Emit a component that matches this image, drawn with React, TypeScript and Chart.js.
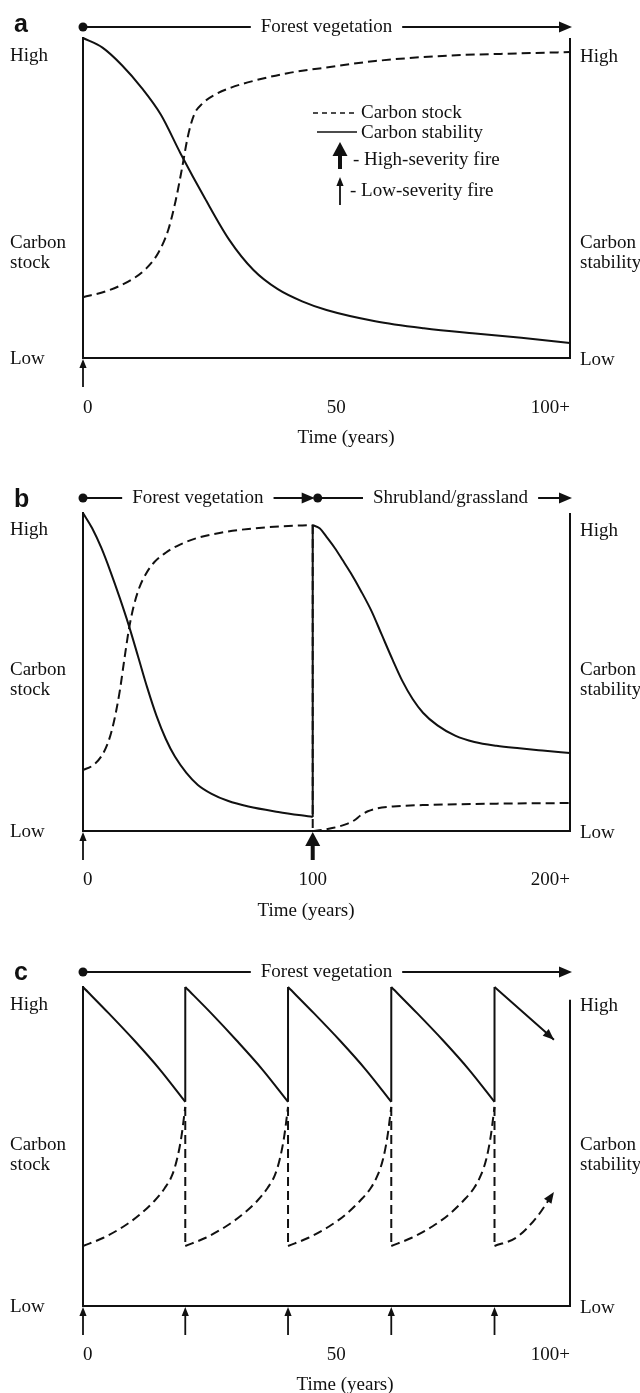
import React, { useEffect, useRef } from 'react';
import { Chart, registerables } from 'chart.js';

Chart.register(...registerables);

const SERIF = '"Liberation Serif", "Times New Roman", serif';
const SANS = '"Liberation Sans", Arial, sans-serif';
const INK = '#111';

type Pt = [number, number | null];

// ---------- Panel a ----------
const A_TICK_VALUES = [0, 52, 100];
const A_TICK_LABELS = ['0', '50', '100+'];
const A_STABILITY: Pt[] = [[0, 1.0], [4, 0.97], [8, 0.915], [12, 0.845], [16, 0.76], [20, 0.64], [25, 0.5], [30, 0.37], [35, 0.275], [40, 0.215], [45, 0.177], [50, 0.15], [60, 0.115], [70, 0.093], [80, 0.077], [90, 0.063], [100, 0.047]];
const A_STOCK: Pt[] = [[0, 0.19], [5, 0.21], [10, 0.245], [13, 0.28], [15.5, 0.33], [17.5, 0.4], [19, 0.49], [20.3, 0.59], [21.5, 0.69], [22.8, 0.76], [24.5, 0.795], [27, 0.822], [30.4, 0.845], [35, 0.866], [42, 0.89], [50, 0.908], [60, 0.928], [75, 0.945], [90, 0.952], [100, 0.956]];
const A_LOW_FIRES = [0];
const A_HIGH_FIRES: number[] = [];

// ---------- Panel b ----------
const B_TICK_VALUES = [0, 100, 212];
const B_TICK_LABELS = ['0', '100', '200+'];
const B_STABILITY_FOREST: Pt[] = [[0, 1.0], [4, 0.952], [8, 0.89], [12, 0.815], [16, 0.733], [20, 0.645], [24, 0.548], [28, 0.45], [32, 0.362], [36, 0.29], [40, 0.234], [45, 0.183], [50, 0.145], [56, 0.117], [63, 0.095], [72, 0.077], [85, 0.06], [100, 0.044]];
const B_STOCK_FOREST: Pt[] = [[0, 0.192], [4, 0.205], [8, 0.235], [11, 0.28], [13.5, 0.345], [16, 0.44], [18, 0.54], [20, 0.635], [22, 0.705], [24.5, 0.765], [27.5, 0.81], [31, 0.845], [36, 0.875], [42, 0.9], [50, 0.922], [60, 0.938], [72, 0.95], [86, 0.958], [100, 0.962]];
const B_JUMP_SOLID: Pt[] = [[100, 0.044], [100, 0.962]];
const B_DROP_DASHED: Pt[] = [[100, 0.962], [100, 0]];
const B_STABILITY_SHRUB: Pt[] = [[100, 0.962], [103, 0.952], [106, 0.925], [109.6, 0.89], [113, 0.852], [116.5, 0.812], [121, 0.755], [125.7, 0.69], [130, 0.618], [134.8, 0.538], [139, 0.472], [143.5, 0.415], [148, 0.372], [154.3, 0.332], [162, 0.3], [170.4, 0.28], [180, 0.268], [190, 0.26], [200, 0.253], [212, 0.245]];
const B_STOCK_SHRUB: Pt[] = [[100, 0], [104, 0.003], [109, 0.01], [114, 0.02], [118, 0.033], [121, 0.05], [124, 0.062], [128, 0.071], [135, 0.077], [150, 0.082], [180, 0.086], [212, 0.088]];
const B_LOW_FIRES = [0];
const B_HIGH_FIRES = [100];

// ---------- Panel c ----------
const C_TICK_VALUES = [0, 52, 100];
const C_TICK_LABELS = ['0', '50', '100+'];
const C_STABILITY_1: Pt[] = [[0, 1.0], [5.25, 0.918], [10.5, 0.833], [15.75, 0.742], [21, 0.64]];
const C_STABILITY_2: Pt[] = [[21, 1.0], [26.3, 0.918], [31.5, 0.833], [36.8, 0.742], [42.1, 0.64]];
const C_STABILITY_3: Pt[] = [[42.1, 1.0], [47.4, 0.918], [52.7, 0.833], [58, 0.742], [63.3, 0.64]];
const C_STABILITY_4: Pt[] = [[63.3, 1.0], [68.6, 0.918], [73.9, 0.833], [79.2, 0.742], [84.5, 0.64]];
const C_STABILITY_5: Pt[] = [[84.5, 1.0], [90.6, 0.918], [96.7, 0.835]];
const C_STABILITY_JUMPS: Pt[] = [[21, 0.64], [21, 1.0], [21, null], [42.1, 0.64], [42.1, 1.0], [42.1, null], [63.3, 0.64], [63.3, 1.0], [63.3, null], [84.5, 0.64], [84.5, 1.0]];
const C_STOCK_1: Pt[] = [[0, 0.188], [4.2, 0.214], [8.4, 0.25], [11.55, 0.285], [14.7, 0.33], [16.8, 0.37], [18.3, 0.41], [19.3, 0.46], [20.2, 0.53], [21, 0.624]];
const C_STOCK_2: Pt[] = [[21, 0.188], [25.2, 0.214], [29.4, 0.25], [32.6, 0.285], [35.8, 0.33], [37.9, 0.37], [39.4, 0.41], [40.4, 0.46], [41.3, 0.53], [42.1, 0.624]];
const C_STOCK_3: Pt[] = [[42.1, 0.188], [46.3, 0.214], [50.6, 0.25], [53.8, 0.285], [56.9, 0.33], [59.1, 0.37], [60.5, 0.41], [61.6, 0.46], [62.5, 0.53], [63.3, 0.624]];
const C_STOCK_4: Pt[] = [[63.3, 0.188], [67.5, 0.214], [71.8, 0.25], [75, 0.285], [78.1, 0.33], [80.3, 0.37], [81.7, 0.41], [82.8, 0.46], [83.7, 0.53], [84.5, 0.624]];
const C_STOCK_5: Pt[] = [[84.5, 0.188], [89.1, 0.216], [93.2, 0.279], [96.7, 0.357]];
const C_STOCK_DROPS: Pt[] = [[21, 0.624], [21, 0.188], [21, null], [42.1, 0.624], [42.1, 0.188], [42.1, null], [63.3, 0.624], [63.3, 0.188], [63.3, null], [84.5, 0.624], [84.5, 0.188]];
const C_LOW_FIRES = [0, 21, 42.1, 63.3, 84.5];
const C_HIGH_FIRES: number[] = [];

// ---------- Text ----------
const LEFT_LABELS = ['High', 'Carbon', 'stock', 'Low'];
const RIGHT_LABELS = ['High', 'Carbon', 'stability', 'Low'];
const LEGEND_LABELS = ['Carbon stock', 'Carbon stability', '- High-severity fire', '- Low-severity fire'];
const X_TITLE = 'Time (years)';

interface Series { data: Pt[]; dashed: boolean; smooth: boolean; arrow?: boolean; }
interface Segment { from: number; to: number; at: number; label: string; }
interface PanelCfg {
  letter: string; top: number; height: number; areaTop: number; areaBottom: number;
  xMax: number; tickValues: number[]; tickLabels: string[]; tickPad: number;
  titleX: number; titleY: number; rowY: number; letterY: number;
  segments: Segment[]; highVal: number; carbonVal: number; rightTop: number;
  lowFires: number[]; highFires: number[]; series: Series[]; legend: boolean;
}

const PANELS: PanelCfg[] = [
  {
    letter: 'a', top: 0, height: 460, areaTop: 38, areaBottom: 358, xMax: 100,
    tickValues: A_TICK_VALUES, tickLabels: A_TICK_LABELS, tickPad: 39,
    titleX: 346, titleY: 438, rowY: 27, letterY: 32,
    segments: [{ from: 0, to: 100, at: 50, label: 'Forest vegetation' }],
    highVal: 0.945, carbonVal: 0.36, rightTop: 1,
    lowFires: A_LOW_FIRES, highFires: A_HIGH_FIRES, legend: true,
    series: [
      { data: A_STOCK, dashed: true, smooth: true },
      { data: A_STABILITY, dashed: false, smooth: true },
    ],
  },
  {
    letter: 'b', top: 460, height: 470, areaTop: 53, areaBottom: 371, xMax: 212,
    tickValues: B_TICK_VALUES, tickLabels: B_TICK_LABELS, tickPad: 38,
    titleX: 306, titleY: 451, rowY: 38, letterY: 47,
    segments: [
      { from: 0, to: 100, at: 50, label: 'Forest vegetation' },
      { from: 100, to: 212, at: 160, label: 'Shrubland/grassland' },
    ],
    highVal: 0.945, carbonVal: 0.506, rightTop: 1,
    lowFires: B_LOW_FIRES, highFires: B_HIGH_FIRES, legend: false,
    series: [
      { data: B_STOCK_FOREST, dashed: true, smooth: true },
      { data: B_STABILITY_FOREST, dashed: false, smooth: true },
      { data: B_DROP_DASHED, dashed: true, smooth: false },
      { data: B_JUMP_SOLID, dashed: false, smooth: false },
      { data: B_STABILITY_SHRUB, dashed: false, smooth: true },
      { data: B_STOCK_SHRUB, dashed: true, smooth: true },
    ],
  },
  {
    letter: 'c', top: 930, height: 470, areaTop: 57, areaBottom: 376, xMax: 100,
    tickValues: C_TICK_VALUES, tickLabels: C_TICK_LABELS, tickPad: 38,
    titleX: 345, titleY: 455, rowY: 42, letterY: 50,
    segments: [{ from: 0, to: 100, at: 50, label: 'Forest vegetation' }],
    highVal: 0.945, carbonVal: 0.505, rightTop: 0.96,
    lowFires: C_LOW_FIRES, highFires: C_HIGH_FIRES, legend: false,
    series: [
      { data: C_STABILITY_1, dashed: false, smooth: true },
      { data: C_STABILITY_2, dashed: false, smooth: true },
      { data: C_STABILITY_3, dashed: false, smooth: true },
      { data: C_STABILITY_4, dashed: false, smooth: true },
      { data: C_STABILITY_5, dashed: false, smooth: true, arrow: true },
      { data: C_STABILITY_JUMPS, dashed: false, smooth: false },
      { data: C_STOCK_1, dashed: true, smooth: true },
      { data: C_STOCK_2, dashed: true, smooth: true },
      { data: C_STOCK_3, dashed: true, smooth: true },
      { data: C_STOCK_4, dashed: true, smooth: true },
      { data: C_STOCK_5, dashed: true, smooth: true, arrow: true },
      { data: C_STOCK_DROPS, dashed: true, smooth: false },
    ],
  },
];

function fireArrow(ctx: CanvasRenderingContext2D, x: number, tipY: number, tailY: number, heavy: boolean) {
  const headH = heavy ? 14 : 9;
  const headW = heavy ? 7.5 : 3.6;
  ctx.save();
  ctx.strokeStyle = INK;
  ctx.fillStyle = INK;
  ctx.setLineDash([]);
  ctx.lineWidth = heavy ? 4 : 1.8;
  ctx.beginPath();
  ctx.moveTo(x, tailY);
  ctx.lineTo(x, tipY + headH - 1);
  ctx.stroke();
  ctx.beginPath();
  ctx.moveTo(x, tipY);
  ctx.lineTo(x - headW, tipY + headH);
  ctx.lineTo(x + headW, tipY + headH);
  ctx.closePath();
  ctx.fill();
  ctx.restore();
}

function makeAnnotations(cfg: PanelCfg) {
  return {
    id: 'annot_' + cfg.letter,
    afterDraw(chart: any) {
      const ctx: CanvasRenderingContext2D = chart.ctx;
      const xs = chart.scales.x;
      const ys = chart.scales.y;
      const area = chart.chartArea;
      ctx.save();
      ctx.fillStyle = INK;
      ctx.strokeStyle = INK;
      ctx.setLineDash([]);

      // right border
      ctx.lineWidth = 2;
      ctx.beginPath();
      ctx.moveTo(area.right, ys.getPixelForValue(cfg.rightTop));
      ctx.lineTo(area.right, area.bottom + 1);
      ctx.stroke();

      // arrowheads at series ends
      cfg.series.forEach((s, i) => {
        if (!s.arrow) return;
        const pts = chart.getDatasetMeta(i).data;
        const a = pts[pts.length - 2];
        const b = pts[pts.length - 1];
        const ang = Math.atan2(b.y - a.y, b.x - a.x);
        const L = 11, W = 4.5;
        ctx.beginPath();
        ctx.moveTo(b.x, b.y);
        ctx.lineTo(b.x - L * Math.cos(ang) + W * Math.sin(ang), b.y - L * Math.sin(ang) - W * Math.cos(ang));
        ctx.lineTo(b.x - L * Math.cos(ang) - W * Math.sin(ang), b.y - L * Math.sin(ang) + W * Math.cos(ang));
        ctx.closePath();
        ctx.fill();
      });

      // panel letter
      ctx.font = `bold 25px ${SANS}`;
      ctx.textAlign = 'left';
      ctx.textBaseline = 'alphabetic';
      ctx.fillText(cfg.letter, 14, cfg.letterY);

      // top phase row
      ctx.font = `19px ${SERIF}`;
      ctx.textBaseline = 'middle';
      ctx.lineWidth = 2;
      for (const seg of cfg.segments) {
        const y = cfg.rowY;
        const x0 = xs.getPixelForValue(seg.from) + (seg.from > 0 ? 5 : 0);
        const x1 = xs.getPixelForValue(seg.to) + 2;
        const xc = xs.getPixelForValue(seg.at);
        const w = ctx.measureText(seg.label).width;
        ctx.beginPath();
        ctx.arc(x0, y, 4.5, 0, Math.PI * 2);
        ctx.fill();
        ctx.beginPath();
        ctx.moveTo(x0, y);
        ctx.lineTo(xc - w / 2 - 10, y);
        ctx.moveTo(xc + w / 2 + 10, y);
        ctx.lineTo(x1 - 10, y);
        ctx.stroke();
        ctx.beginPath();
        ctx.moveTo(x1, y);
        ctx.lineTo(x1 - 13, y - 5.5);
        ctx.lineTo(x1 - 13, y + 5.5);
        ctx.closePath();
        ctx.fill();
        ctx.textAlign = 'center';
        ctx.fillText(seg.label, xc, y);
      }

      // side labels
      ctx.textAlign = 'left';
      const lx = 10;
      const rx = area.right + 10;
      const yHigh = ys.getPixelForValue(cfg.highVal);
      const yC = ys.getPixelForValue(cfg.carbonVal);
      const yLow = ys.getPixelForValue(0);
      ctx.fillText(LEFT_LABELS[0], lx, yHigh);
      ctx.fillText(LEFT_LABELS[1], lx, yC);
      ctx.fillText(LEFT_LABELS[2], lx, yC + 20);
      ctx.fillText(LEFT_LABELS[3], lx, yLow + 1);
      ctx.fillText(RIGHT_LABELS[0], rx, yHigh + 1);
      ctx.fillText(RIGHT_LABELS[1], rx, yC);
      ctx.fillText(RIGHT_LABELS[2], rx, yC + 20);
      ctx.fillText(RIGHT_LABELS[3], rx, yLow + 2);

      // x title
      ctx.textAlign = 'center';
      ctx.fillText(X_TITLE, cfg.titleX, cfg.titleY);

      // fire arrows
      for (const f of cfg.lowFires) fireArrow(ctx, xs.getPixelForValue(f), area.bottom + 1, area.bottom + 29, false);
      for (const f of cfg.highFires) fireArrow(ctx, xs.getPixelForValue(f), area.bottom + 1, area.bottom + 29, true);

      // legend
      if (cfg.legend) {
        ctx.textAlign = 'left';
        ctx.lineWidth = 1.6;
        ctx.setLineDash([5, 4]);
        ctx.beginPath();
        ctx.moveTo(313, 113);
        ctx.lineTo(357, 113);
        ctx.stroke();
        ctx.setLineDash([]);
        ctx.beginPath();
        ctx.moveTo(317, 132);
        ctx.lineTo(357, 132);
        ctx.stroke();
        ctx.fillText(LEGEND_LABELS[0], 361, 113);
        ctx.fillText(LEGEND_LABELS[1], 361, 133);
        fireArrow(ctx, 340, 142, 169, true);
        ctx.fillText(LEGEND_LABELS[2], 353, 160);
        fireArrow(ctx, 340, 177, 205, false);
        ctx.fillText(LEGEND_LABELS[3], 350, 191);
      }
      ctx.restore();
    },
  };
}

function PanelChart({ cfg }: { cfg: PanelCfg }) {
  const ref = useRef<HTMLCanvasElement | null>(null);
  useEffect(() => {
    if (!ref.current) return;
    const datasets = cfg.series.map((s) => ({
      data: s.data.map(([x, y]) => ({ x, y })),
      borderColor: INK,
      borderWidth: 2,
      borderDash: s.dashed ? [9, 5] : [],
      pointRadius: 0,
      pointHoverRadius: 0,
      fill: false,
      clip: false as any,
      spanGaps: false,
      tension: 0,
      cubicInterpolationMode: s.smooth ? 'monotone' : 'default',
    }));
    const axisH = cfg.height - cfg.areaBottom;
    const chart = new Chart(ref.current, {
      type: 'line',
      data: { datasets: datasets as any },
      options: {
        animation: false,
        responsive: false,
        maintainAspectRatio: false,
        events: [],
        layout: { padding: { top: cfg.areaTop, left: 83, right: 70, bottom: 0 } },
        plugins: { legend: { display: false }, tooltip: { enabled: false }, title: { display: false } },
        scales: {
          x: {
            type: 'linear', min: 0, max: cfg.xMax, offset: false,
            grid: { display: false, drawTicks: false },
            border: { display: true, color: INK, width: 2 },
            afterBuildTicks: (scale: any) => { scale.ticks = cfg.tickValues.map((v) => ({ value: v })); },
            afterFit: (scale: any) => { scale.height = axisH; },
            ticks: {
              autoSkip: false, maxRotation: 0, minRotation: 0, align: 'inner', padding: cfg.tickPad,
              color: INK, font: { family: SERIF, size: 19 },
              callback: (_v: any, i: number) => cfg.tickLabels[i] ?? '',
            },
            title: { display: false },
          },
          y: {
            type: 'linear', min: 0, max: 1, display: true,
            grid: { display: false, drawTicks: false },
            ticks: { display: false },
            border: { display: true, color: INK, width: 2 },
          },
        },
      } as any,
      plugins: [makeAnnotations(cfg)],
    });
    return () => chart.destroy();
  }, [cfg]);
  return (
    <canvas
      ref={ref}
      width={640}
      height={cfg.height}
      style={{ position: 'absolute', left: 0, top: cfg.top, width: 640, height: cfg.height, display: 'block' }}
    />
  );
}

export default function App() {
  useEffect(() => {
    document.body.style.margin = '0';
    document.body.style.background = '#fff';
    document.body.style.overflow = 'hidden';
  }, []);
  return (
    <div style={{ position: 'relative', width: 640, height: 1393, overflow: 'hidden', background: '#fff' }}>
      {PANELS.map((p) => <PanelChart key={p.letter} cfg={p} />)}
    </div>
  );
}
